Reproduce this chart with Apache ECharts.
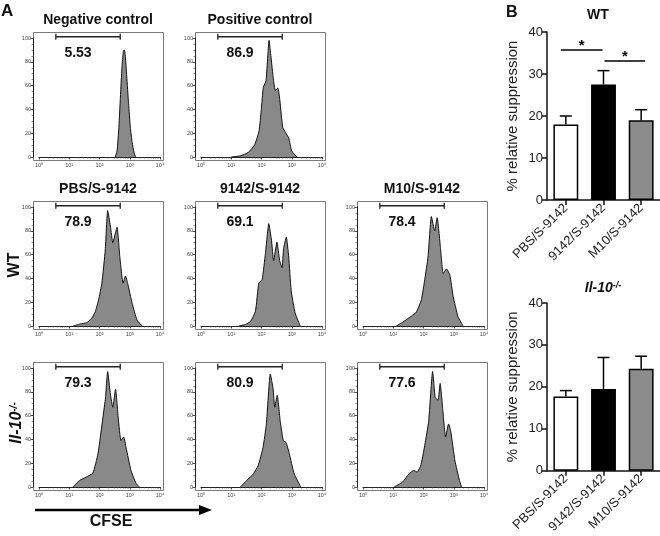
<!DOCTYPE html>
<html><head><meta charset="utf-8">
<script src="https://cdn.jsdelivr.net/npm/echarts@6/dist/echarts.min.js"></script>
<style>html,body{margin:0;padding:0;background:#fff}#c{width:660px;height:536px}</style>
</head><body><div id="c"></div>
<script>
const FONT = 'Liberation Sans, Arial, Helvetica, sans-serif';

// ---- Panel A: CFSE histograms, points are [CFSE intensity, % of max] ----
const negControl = [[331,0],[380,5],[437,25],[501,55],[562,78],[617,89],[661,90],[708,86],[794,68],[912,45],[1047,25],[1202,12],[1380,4],[1549,0]];
const posControl = [[10,0],[20,1],[36.3,3.7],[60.3,10.7],[83.2,22],[97.7,39],[115,58.6],[141,64],[178,98],[200,87],[251,64],[288,56],[347,58],[407,47],[501,25],[631,20.5],[794,16],[1000,5],[1479,0]];
const wtPBS = [[13.5,0],[22.9,1.7],[38,2.8],[55,6.5],[72.4,12],[93.3,22],[120,36],[155,64],[186,97],[229,84],[275,70],[380,83],[468,58.6],[603,36],[724,42],[851,36],[1202,19],[1738,5],[2570,0]];
const wt9142 = [[18.2,0],[30.2,1.4],[43.7,4],[63.1,12.4],[81.3,36],[105,39],[135,61],[174,86],[214,72],[251,55],[324,70.4],[398,55],[479,49],[537,65],[661,74.6],[794,58],[955,30],[1288,11],[1905,0]];
const wtM10 = [[12.6,0],[20.9,3.3],[39.8,8.3],[57.5,11.6],[85.1,22],[110,39],[141,58],[182,92],[234,80],[282,91],[363,66],[447,44],[575,48],[741,43],[955,25],[1380,8],[2042,0]];
const koPBS = [[13.2,0],[21.9,5.5],[36.3,8.3],[60.3,11.7],[89.1,28],[129,58],[158,75],[186,97],[229,78],[275,67],[339,82],[417,58],[513,39],[631,42],[759,33],[1096,14],[1622,3],[2089,0]];
const ko9142 = [[20,0],[32.4,5.5],[53.7,11],[77.6,18],[112,33],[145,53],[195,95],[240,83],[275,67],[331,77],[417,55],[525,39],[646,37.5],[832,28],[1202,11],[1995,0]];
const koM10 = [[10.7,0],[20,4],[33.1,11],[47.9,14],[61.7,12.5],[83.2,19],[117,39],[148,55],[200,97],[245,75],[302,73],[355,87],[437,64],[537,42],[676,53],[794,47],[1096,22],[1549,5.5],[1820,0]];

const histData = [negControl, posControl, wtPBS, wt9142, wtM10, koPBS, ko9142, koM10];
const panelTitles = ['Negative control', 'Positive control', 'PBS/S-9142', '9142/S-9142', 'M10/S-9142', '', '', ''];
const gatePercents = ['5.53', '86.9', '78.9', '69.1', '78.4', '79.3', '80.9', '77.6'];
const gateRange = [3.6, 485];
const gateLevel = 101;
const xTickLabels = ['10\u2070', '10\u00B9', '10\u00B2', '10\u00B3', '10\u2074'];

// ---- Panel B: bar charts ----
const barCategories = ['PBS/S-9142', '9142/S-9142', 'M10/S-9142'];
const wtMeans = [18.0, 27.5, 19.0];
const wtErrors = [2.0, 3.3, 2.5];
const koMeans = [17.7, 19.5, 24.3];
const koErrors = [1.4, 7.5, 3.0];
const wtSignif = [[0, 1, 35.7], [1, 2, 33.1]];
const barColors = ['#ffffff', '#000000', '#8c8c8c'];

// ---- layout ----
const colX = [33, 195, 357];
const rowY = [32, 201, 362];
const panelPos = [[0,0],[0,1],[1,0],[1,1],[1,2],[2,0],[2,1],[2,2]];
const FW = 130, FH = 128;

const grid = [], xAxis = [], yAxis = [], series = [], graphic = [];

panelPos.forEach(([r, c], i) => {
  const fx = colX[c], fy = rowY[r];
  grid.push({ left: fx + 6, top: fy + 6, width: 121, height: 119 });
  xAxis.push({
    type: 'log', logBase: 10, min: 1, max: 10000, gridIndex: i, offset: 3,
    axisLine: { show: true, lineStyle: { color: '#222', width: 1 } },
    axisTick: { show: true, length: 2.5, lineStyle: { color: '#222', width: 0.8 } },
    minorTick: { show: true, splitNumber: 9, length: 1.5, lineStyle: { color: '#444', width: 0.6 } },
    axisLabel: { fontSize: 5.5, margin: 2, color: '#444', fontFamily: FONT,
      formatter: v => xTickLabels[Math.round(Math.log10(v))] || '' },
    splitLine: { show: false }
  });
  yAxis.push({
    type: 'value', min: 0, max: 100, interval: 20, gridIndex: i, offset: 6,
    axisLine: { show: true, lineStyle: { color: '#222', width: 1 } },
    axisTick: { show: true, length: 2.5, lineStyle: { color: '#222', width: 0.8 } },
    minorTick: { show: true, splitNumber: 4, length: 1.5, lineStyle: { color: '#444', width: 0.6 } },
    axisLabel: { fontSize: 5.5, margin: 2, color: '#444', fontFamily: FONT },
    splitLine: { show: false }
  });
  series.push({
    type: 'line', xAxisIndex: i, yAxisIndex: i, data: histData[i], symbol: 'none',
    smooth: 0.15, silent: true,
    lineStyle: { color: '#111', width: 1 },
    areaStyle: { color: '#898989', opacity: 1 }
  });
  series.push({
    type: 'line', xAxisIndex: i, yAxisIndex: i, clip: false, silent: true,
    data: [[gateRange[0], gateLevel], [gateRange[1], gateLevel]],
    symbol: 'rect', symbolSize: [1.3, 6], showSymbol: true,
    itemStyle: { color: '#222' }, lineStyle: { color: '#222', width: 1.5 }
  });
  graphic.push({ type: 'rect', silent: true, z: -1,
    shape: { x: fx + 0.5, y: fy + 0.5, width: FW, height: FH },
    style: { fill: null, stroke: '#7a7a7a', lineWidth: 1 } });
  if (panelTitles[i]) {
    graphic.push({ type: 'text', x: fx + FW / 2, y: fy - 12,
      style: { text: panelTitles[i], font: 'bold 14px ' + FONT, fill: '#111', textAlign: 'center', textVerticalAlign: 'middle' } });
  }
  graphic.push({ type: 'text', x: fx + 45, y: fy + 21,
    style: { text: gatePercents[i], font: 'bold 14px ' + FONT, fill: '#111', textAlign: 'center', textVerticalAlign: 'middle' } });
});

// bar grids
const barGridTops = [32, 303];
const barSets = [[wtMeans, wtErrors], [koMeans, koErrors]];
barSets.forEach(([means, errs], k) => {
  const gi = 8 + k;
  grid.push({ left: 547, top: barGridTops[k], width: 113, height: 168 });
  xAxis.push({
    type: 'category', gridIndex: gi, data: barCategories,
    axisLine: { show: true, lineStyle: { color: '#111', width: 1.5 } },
    axisTick: { show: true, alignWithLabel: true, length: 5, lineStyle: { color: '#111', width: 1.5 } },
    axisLabel: { rotate: 45, fontSize: 13, margin: 6, color: '#222', fontFamily: FONT, interval: 0 }
  });
  yAxis.push({
    type: 'value', gridIndex: gi, min: 0, max: 40, interval: 10,
    name: '% relative suppression', nameLocation: 'middle', nameGap: 27,
    nameTextStyle: { fontSize: 15, color: '#222', fontFamily: FONT },
    axisLine: { show: true, lineStyle: { color: '#111', width: 1.5 } },
    axisTick: { show: true, length: 5, lineStyle: { color: '#111', width: 1.5 } },
    axisLabel: { fontSize: 13, margin: 4, color: '#222', fontFamily: FONT },
    splitLine: { show: false }
  });
  series.push({
    type: 'bar', xAxisIndex: gi, yAxisIndex: gi, barWidth: '66%', silent: true,
    data: means.map((m, j) => ({ value: m, itemStyle: { color: barColors[j], borderColor: '#000', borderWidth: 1.5 } }))
  });
  series.push({
    type: 'custom', xAxisIndex: gi, yAxisIndex: gi, silent: true, z: 1,
    data: means.map((m, j) => [j, m, errs[j]]),
    renderItem: (params, api) => {
      const p0 = api.coord([api.value(0), api.value(1)]);
      const p1 = api.coord([api.value(0), api.value(1) + api.value(2)]);
      return { type: 'group', children: [
        { type: 'line', shape: { x1: p0[0], y1: p0[1], x2: p1[0], y2: p1[1] }, style: { stroke: '#000', lineWidth: 1.5 } },
        { type: 'line', shape: { x1: p1[0] - 6, y1: p1[1], x2: p1[0] + 6, y2: p1[1] }, style: { stroke: '#000', lineWidth: 1.5 } }
      ] };
    }
  });
});
series.push({
  type: 'custom', xAxisIndex: 8, yAxisIndex: 8, silent: true, clip: false,
  data: wtSignif,
  renderItem: (params, api) => {
    const a = api.value(0), b = api.value(1), y = api.value(2);
    const pa = api.coord([a, y]), pb = api.coord([b, y]);
    const x1 = a === 0 ? pa[0] - 5 : pa[0] + 1;
    const x2 = a === 0 ? pb[0] - 1 : pb[0] + 4;
    return { type: 'group', children: [
      { type: 'line', shape: { x1, y1: pa[1], x2, y2: pa[1] }, style: { stroke: '#000', lineWidth: 1.5 } },
      { type: 'text', x: (x1 + x2) / 2, y: pa[1] + 3, style: { text: '*', font: 'bold 15px ' + FONT, fill: '#000', textAlign: 'center', textVerticalAlign: 'bottom' } }
    ] };
  }
});

// annotations
graphic.push(
  { type: 'text', x: 1, y: 3, style: { text: 'A', font: 'bold 17px ' + FONT, fill: '#111' } },
  { type: 'text', x: 506, y: 5, style: { text: 'B', font: 'bold 16px ' + FONT, fill: '#111' } },
  { type: 'text', x: 598, y: 15, style: { text: 'WT', font: 'bold 14px ' + FONT, fill: '#111', textAlign: 'center', textVerticalAlign: 'middle' } },
  { type: 'text', x: 603, y: 288, style: { text: '{a|Il-10}{b|-/-}', textAlign: 'center', textVerticalAlign: 'middle',
      rich: { a: { font: 'italic bold 14px ' + FONT, fill: '#111' }, b: { font: 'italic bold 9px ' + FONT, fill: '#111', verticalAlign: 'top' } } } },
  { type: 'text', x: 15, y: 265, rotation: Math.PI / 2, style: { text: 'WT', font: 'bold 16px ' + FONT, fill: '#111', textAlign: 'center', textVerticalAlign: 'middle' } },
  { type: 'text', x: 17, y: 423, rotation: Math.PI / 2, style: { text: '{a|Il-10}{b|-/-}', textAlign: 'center', textVerticalAlign: 'middle',
      rich: { a: { font: 'italic bold 16px ' + FONT, fill: '#111' }, b: { font: 'italic bold 10px ' + FONT, fill: '#111', verticalAlign: 'top' } } } },
  { type: 'line', shape: { x1: 35, y1: 510, x2: 201, y2: 510 }, style: { stroke: '#000', lineWidth: 2.6 } },
  { type: 'polygon', shape: { points: [[199, 505], [212, 510], [199, 515]] }, style: { fill: '#000' } },
  { type: 'text', x: 111, y: 522, style: { text: 'CFSE', font: 'bold 16px ' + FONT, fill: '#111', textAlign: 'center', textVerticalAlign: 'middle' } }
);

const chart = echarts.init(document.getElementById('c'), null, { renderer: 'canvas' });
chart.setOption({ animation: false, backgroundColor: '#fff', textStyle: { fontFamily: FONT }, grid, xAxis, yAxis, series, graphic });
</script></body></html>
